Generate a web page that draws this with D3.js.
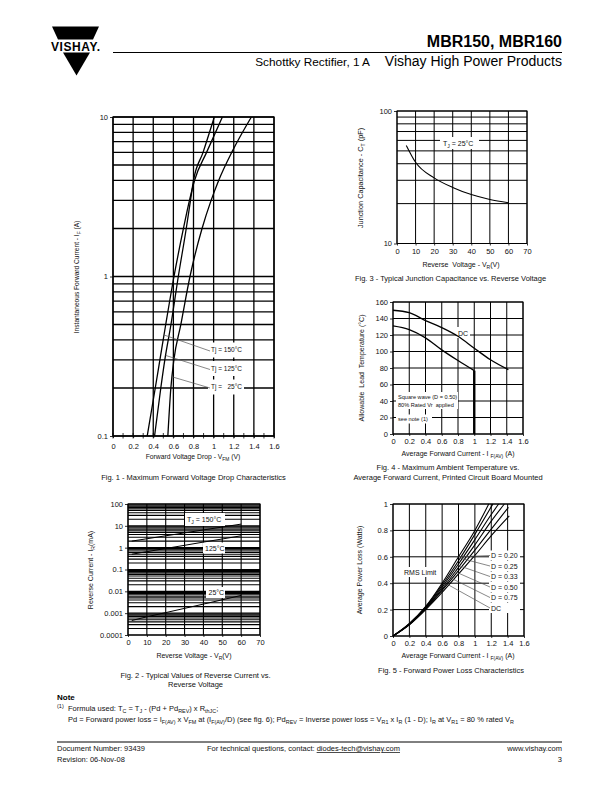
<!DOCTYPE html>
<html><head><meta charset="utf-8">
<script src="https://cdn.jsdelivr.net/npm/d3@7"></script>
<style>
body{margin:0;background:#fff}
svg{display:block}
text{font-family:"Liberation Sans",Arial,Helvetica,sans-serif}
</style>
</head><body>
<svg id="page" width="612" height="792"></svg>
<script>
// ---------------- DATA ----------------
// Fig. 1 - forward voltage drop (V) vs forward current (A)
const fig1Current = [0.1, 0.2, 0.3, 0.5, 1, 2, 3, 4, 6, 10];
const fig1V150 = [0.34, 0.42, 0.466, 0.524, 0.606, 0.70, 0.76, 0.81, 0.93, 1.087];
const fig1V125 = [0.413, 0.475, 0.515, 0.576, 0.649, 0.728, 0.77, 0.80, 0.895, 1.007];
const fig1V25 = [0.545, 0.575, 0.605, 0.674, 0.765, 0.885, 0.975, 1.05, 1.18, 1.375];
const fig1Labels = ["Tj = 150\u00B0C", "Tj = 125\u00B0C", "Tj =   25\u00B0C"];
const fig1XTicks = [0, 0.2, 0.4, 0.6, 0.8, 1, 1.2, 1.4, 1.6];
const fig1XMinor = [0.1, 0.3, 0.5, 0.7, 0.9, 1.1, 1.3, 1.5];
const fig1YTicks = [0.1, 1, 10];

// Fig. 2 - reverse current (mA) vs reverse voltage (V)
const fig2Voltage = [2, 10, 20, 30, 40, 50, 60];
const fig2I150 = [2.0, 2.56, 3.5, 4.75, 6.5, 8.8, 12];
const fig2I125 = [0.5, 0.655, 0.92, 1.28, 1.8, 2.5, 3.5];
const fig2I25 = [0.00046, 0.00068, 0.00106, 0.00166, 0.0026, 0.0041, 0.0065];
const fig2XTicks = [0, 10, 20, 30, 40, 50, 60, 70];
const fig2YTicks = [0.0001, 0.001, 0.01, 0.1, 1, 10, 100];
const fig2YTickLabels = ["0.0001", "0.001", "0.01", "0.1", "1", "10", "100"];

// Fig. 3 - junction capacitance (pF) vs reverse voltage (V)
const fig3Voltage = [5, 10, 20, 30, 40, 50, 60];
const fig3Cap = [55, 41, 31.3, 26.5, 23.4, 21.5, 20.3];
const fig3XTicks = [0, 10, 20, 30, 40, 50, 60, 70];
const fig3YTicks = [10, 100];

// Fig. 4 - allowable lead temperature vs average forward current
const fig4CurrentDC = [0, 0.2, 0.4, 0.6, 0.8, 1.0, 1.2, 1.42];
const fig4TempDC = [150, 147, 137.5, 129, 118.5, 104, 90, 78];
const fig4CurrentSq = [0, 0.2, 0.4, 0.6, 0.8, 1.0];
const fig4TempSq = [131, 126.5, 116.5, 102, 89, 76.8];
const fig4XTicks = [0, 0.2, 0.4, 0.6, 0.8, 1, 1.2, 1.4, 1.6];
const fig4YTicks = [0, 20, 40, 60, 80, 100, 120, 140, 160];

// Fig. 5 - average power loss vs average forward current
const fig5Names = ["D = 0.20", "D = 0.25", "D = 0.33", "D = 0.50", "D = 0.75", "DC"];
const fig5I_D020 = [0, 0.2, 0.4, 0.6, 0.8, 1.0, 1.17];
const fig5P_D020 = [0, 0.095, 0.225, 0.40, 0.60, 0.80, 1.0];
const fig5I_D025 = [0, 0.2, 0.4, 0.6, 0.8, 1.0, 1.22];
const fig5P_D025 = [0, 0.093, 0.22, 0.385, 0.57, 0.77, 1.0];
const fig5I_D033 = [0, 0.2, 0.4, 0.6, 0.8, 1.0, 1.2, 1.29];
const fig5P_D033 = [0, 0.09, 0.215, 0.37, 0.545, 0.73, 0.92, 1.0];
const fig5I_D050 = [0, 0.2, 0.4, 0.6, 0.8, 1.0, 1.2, 1.36];
const fig5P_D050 = [0, 0.088, 0.21, 0.355, 0.52, 0.69, 0.87, 1.0];
const fig5I_D075 = [0, 0.2, 0.4, 0.6, 0.8, 1.0, 1.2, 1.41];
const fig5P_D075 = [0, 0.086, 0.205, 0.345, 0.495, 0.65, 0.81, 0.975];
const fig5I_DC = [0, 0.2, 0.4, 0.6, 0.8, 1.0, 1.2, 1.42];
const fig5P_DC = [0, 0.085, 0.2, 0.33, 0.47, 0.61, 0.76, 0.91];
const fig5LeaderI = [0.80, 0.82, 0.79, 0.76, 0.72, 0.68];
const fig5XTicks = [0, 0.2, 0.4, 0.6, 0.8, 1, 1.2, 1.4, 1.6];
const fig5YTicks = [0, 0.2, 0.4, 0.6, 0.8, 1];

// ---------------- HELPERS ----------------
const FONT = '"Liberation Sans", Arial, Helvetica, sans-serif';
const svg = d3.select('#page');
svg.append('rect').attr('width', 612).attr('height', 792).attr('fill', '#fff');
const INK = '#111';

function addText(g, x, y, parts, o = {}) {
  const size = o.size || 7.5;
  const t = g.append('text').attr('x', x).attr('y', y)
    .attr('font-size', size).attr('text-anchor', o.anchor || 'start')
    .attr('font-weight', o.weight || 'normal').attr('fill', o.fill || INK)
    .attr('font-family', FONT);
  if (o.rotate) t.attr('transform', `rotate(-90,${x},${y})`);
  if (o.spacing) t.attr('xml:space', 'preserve').style('white-space', 'pre');
  if (typeof parts === 'string') parts = [parts];
  let pending = 0;
  parts.forEach(p => {
    if (typeof p === 'string') {
      const s = t.append('tspan').text(p);
      if (pending) { s.attr('dy', -pending); pending = 0; }
    } else {
      const d = p.sup ? -size * 0.38 : size * 0.3;
      const s = t.append('tspan').attr('font-size', size * 0.72).text(p.sub || p.sup);
      s.attr('dy', d - pending);
      pending = d;
    }
  });
  return t;
}

function grid(g, x, y, xs, ys, sw) {
  const [y0, y1] = y.range();
  const [x0, x1] = x.range();
  g.append('g').selectAll('line').data(xs).join('line')
    .attr('x1', d => x(d)).attr('x2', d => x(d)).attr('y1', y0).attr('y2', y1)
    .attr('stroke', '#000').attr('stroke-width', sw);
  g.append('g').selectAll('line').data(ys).join('line')
    .attr('x1', x0).attr('x2', x1).attr('y1', d => y(d)).attr('y2', d => y(d))
    .attr('stroke', '#000').attr('stroke-width', sw);
  g.append('rect').attr('x', x0).attr('y', y1).attr('width', x1 - x0).attr('height', y0 - y1)
    .attr('fill', 'none').attr('stroke', '#000').attr('stroke-width', sw);
}

function axes(g, x, y, xTicks, yTicks, o = {}) {
  const size = o.size || 7.5;
  const ax = g.append('g').attr('transform', `translate(0,${y.range()[0]})`)
    .call(d3.axisBottom(x).tickValues(xTicks).tickSize(o.xTick || 2).tickPadding(o.xPad || 3)
      .tickFormat(o.xFormat || d3.format('')));
  const ay = g.append('g').attr('transform', `translate(${x.range()[0]},0)`)
    .call(d3.axisLeft(y).tickValues(yTicks).tickSize(3).tickPadding(o.yPad || 2)
      .tickFormat(o.yFormat || d3.format('')));
  [ax, ay].forEach(a => {
    a.select('.domain').remove();
    a.attr('font-family', FONT).attr('font-size', size);
    a.selectAll('text').attr('fill', INK);
    a.selectAll('line').attr('stroke', '#000').attr('stroke-width', 0.8);
  });
}

function whiteBox(g, x, y, w, h) {
  g.append('rect').attr('x', x).attr('y', y).attr('width', w).attr('height', h).attr('fill', '#fff');
}

function curve(g, xs, ys, x, y, sw, c = d3.curveMonotoneX) {
  const pts = xs.map((v, i) => [v, ys[i]]);
  g.append('path').datum(pts)
    .attr('d', d3.line().x(d => x(d[0])).y(d => y(d[1])).curve(c))
    .attr('fill', 'none').attr('stroke', '#000').attr('stroke-width', sw);
}

// ---------------- HEADER ----------------
const hdr = svg.append('g');
hdr.append('polygon').attr('points', '52,26.5 99,26.5 93,39.5 58,39.5').attr('fill', '#000');
addText(hdr, 51, 50.5, 'VISHAY.', { size: 12, weight: 'bold', fill: '#000' }).attr('textLength', 49);
hdr.append('polygon').attr('points', '63,52.5 90,52.5 76.5,75.5').attr('fill', '#000');
addText(hdr, 562, 47, 'MBR150, MBR160', { size: 16, weight: 'bold', anchor: 'end', fill: '#000' });
hdr.append('line').attr('x1', 113).attr('x2', 562).attr('y1', 52.5).attr('y2', 52.5)
  .attr('stroke', '#000').attr('stroke-width', 1);
addText(hdr, 370, 65.5, 'Schottky Rectifier, 1 A', { size: 11.8, anchor: 'end', fill: '#000' });
addText(hdr, 562, 66, 'Vishay High Power Products', { size: 14, anchor: 'end', fill: '#000' });

// ---------------- FIG 1 ----------------
{
  const g = svg.append('g');
  const x = d3.scaleLinear().domain([0, 1.6]).range([113, 274]);
  const y = d3.scaleLog().domain([0.1, 10]).range([436, 117]);
  grid(g, x, y, fig1XTicks, y.ticks(), 1.3);
  g.append('g').selectAll('line').data(fig1XMinor.concat(fig1XTicks)).join('line')
    .attr('x1', d => x(d)).attr('x2', d => x(d)).attr('y1', 433).attr('y2', 438.5)
    .attr('stroke', '#000').attr('stroke-width', 0.8);
  axes(g, x, y, fig1XTicks, fig1YTicks, { xTick: 0, xPad: 6, yFormat: d3.format('') });
  [350, 368.5, 387].forEach(cy => whiteBox(g, 208, cy - 7.5, 36, 15));
  const curves = [fig1V150, fig1V125, fig1V25];
  curves.forEach(v => curve(g, v, fig1Current, x, y, 1.3));
  const leaderI = [0.43, 0.32, 0.235];
  [350, 368.5, 387].forEach((cy, i) => {
    addText(g, 211, cy + 2.3, fig1Labels[i], { size: 6.5, spacing: true });
    const vi = d3.scaleLog().domain(fig1Current).range(curves[i])(leaderI[i]);
    g.append('line').attr('x1', 210).attr('y1', cy + 1).attr('x2', x(vi)).attr('y2', y(leaderI[i]))
      .attr('stroke', '#555').attr('stroke-width', 0.7);
  });
  addText(g, 79, 277, ['Instantaneous Forward Current - I', { sub: 'F' }, ' (A)'], { size: 6.6, anchor: 'middle', rotate: true });
  addText(g, 193, 458.5, ['Forward Voltage Drop - V', { sub: 'FM' }, ' (V)'], { size: 6.8, anchor: 'middle' });
  addText(g, 193.5, 479.5, 'Fig. 1 - Maximum Forward Voltage Drop Characteristics', { size: 7.5, anchor: 'middle' });
}

// ---------------- FIG 3 ----------------
{
  const g = svg.append('g');
  const x = d3.scaleLinear().domain([0, 70]).range([397, 527]);
  const y = d3.scaleLog().domain([10, 100]).range([243.5, 111]);
  grid(g, x, y, fig3XTicks, y.ticks(), 1);
  axes(g, x, y, fig3XTicks, fig3YTicks, { xTick: 2, xPad: 3 });
  whiteBox(g, 440, 137, 39, 12);
  curve(g, fig3Voltage, fig3Cap, x, y, 1.1);
  addText(g, 443, 145.5, ['T', { sub: 'J' }, ' = 25\u00B0C'], { size: 7 });
  addText(g, 363, 178, ['Junction Capacitance - C', { sub: 'T' }, ' (pF)'], { size: 7.3, anchor: 'middle', rotate: true });
  addText(g, 461, 266.5, ['Reverse  Voltage - V', { sub: 'R' }, '(V)'], { size: 7, anchor: 'middle', spacing: true });
  addText(g, 450.5, 280.5, 'Fig. 3 - Typical Junction Capacitance vs. Reverse Voltage', { size: 7.5, anchor: 'middle' });
}

// ---------------- FIG 4 ----------------
{
  const g = svg.append('g');
  const x = d3.scaleLinear().domain([0, 1.6]).range([393, 523]);
  const y = d3.scaleLinear().domain([0, 160]).range([434, 302]);
  grid(g, x, y, fig4XTicks, fig4YTicks, 1);
  axes(g, x, y, fig4XTicks, fig4YTicks, { xTick: 2, xPad: 3 });
  whiteBox(g, 396, 392, 62, 17);
  whiteBox(g, 396, 414.5, 36, 9);
  whiteBox(g, 456, 327, 14, 11);
  curve(g, fig4CurrentDC, fig4TempDC, x, y, 1.3);
  curve(g, fig4CurrentSq, fig4TempSq, x, y, 1.3);
  g.append('line').attr('x1', x(1)).attr('x2', x(1)).attr('y1', y(fig4TempSq[fig4TempSq.length - 1])).attr('y2', y(0))
    .attr('stroke', '#000').attr('stroke-width', 2.4);
  addText(g, 458, 335.5, 'DC', { size: 7 });
  addText(g, 398, 399, 'Square wave (D = 0.50)', { size: 5.6 });
  addText(g, 398, 407, '80% Rated Vr  applied', { size: 5.6, spacing: true });
  addText(g, 398, 421, 'see note (1)', { size: 5.6 });
  addText(g, 364, 368, 'Allowable  Lead  Temperature (\u00B0C)', { size: 7, anchor: 'middle', rotate: true, spacing: true });
  addText(g, 458, 455.5, ['Average Forward Current - I ', { sub: 'F(AV)' }, ' (A)'], { size: 7, anchor: 'middle' });
  addText(g, 448, 469.5, 'Fig. 4 - Maximum Ambient Temperature vs.', { size: 7.5, anchor: 'middle' });
  addText(g, 448, 479.5, 'Average Forward Current, Printed Circuit Board Mounted', { size: 7.5, anchor: 'middle' });
}

// ---------------- FIG 2 ----------------
{
  const g = svg.append('g');
  const x = d3.scaleLinear().domain([0, 70]).range([128, 260]);
  const y = d3.scaleLog().domain([0.0001, 100]).range([635, 504]);
  grid(g, x, y, fig2XTicks, y.ticks(), 1.1);
  axes(g, x, y, fig2XTicks, fig2YTicks, { xTick: 2, xPad: 3, yFormat: (d, i) => fig2YTickLabels[i] });
  whiteBox(g, 185, 513, 40, 13);
  whiteBox(g, 203, 542.5, 22, 11);
  whiteBox(g, 206, 587, 19, 11);
  curve(g, fig2Voltage, fig2I150, x, y, 1);
  curve(g, fig2Voltage, fig2I125, x, y, 1);
  curve(g, fig2Voltage, fig2I25, x, y, 1);
  addText(g, 187, 521.5, ['T', { sub: 'J' }, ' = 150\u00B0C'], { size: 7 });
  addText(g, 205, 550.5, '125\u00B0C', { size: 7 });
  addText(g, 208.5, 595, '25\u00B0C', { size: 7 });
  addText(g, 93, 570, ['Reverse Current - I', { sub: 'R' }, '(mA)'], { size: 7, anchor: 'middle', rotate: true });
  addText(g, 194, 657.5, ['Reverse Voltage - V', { sub: 'R' }, '(V)'], { size: 7, anchor: 'middle' });
  addText(g, 195.5, 677.5, 'Fig. 2 - Typical Values of Reverse Current vs.', { size: 7.5, anchor: 'middle' });
  addText(g, 195.5, 687, 'Reverse Voltage', { size: 7.5, anchor: 'middle' });
}

// ---------------- FIG 5 ----------------
{
  const g = svg.append('g');
  const x = d3.scaleLinear().domain([0, 1.6]).range([393, 524]);
  const y = d3.scaleLinear().domain([0, 1]).range([636, 504]);
  grid(g, x, y, fig5XTicks, fig5YTicks, 1);
  axes(g, x, y, fig5XTicks, fig5YTicks, { xTick: 2, xPad: 3 });
  const labelY = [555.5, 566, 576.5, 587, 597.5, 608];
  labelY.forEach(cy => whiteBox(g, 489, cy - 5, 31, 10));
  whiteBox(g, 402, 567, 36, 10);
  const sets = [[fig5I_D020, fig5P_D020], [fig5I_D025, fig5P_D025], [fig5I_D033, fig5P_D033],
                [fig5I_D050, fig5P_D050], [fig5I_D075, fig5P_D075], [fig5I_DC, fig5P_DC]];
  sets.forEach(s => curve(g, s[0], s[1], x, y, 1.1));
  sets.forEach((s, i) => {
    const p = d3.scaleLinear().domain(s[0]).range(s[1])(fig5LeaderI[i]);
    g.append('line').attr('x1', x(fig5LeaderI[i])).attr('y1', y(p)).attr('x2', 490).attr('y2', labelY[i])
      .attr('stroke', '#555').attr('stroke-width', 0.7);
    addText(g, 491, labelY[i] + 2.5, fig5Names[i], { size: 7 });
  });
  addText(g, 404, 574.5, 'RMS Limit', { size: 7 });
  addText(g, 362, 570, 'Average Power Loss (Watts)', { size: 7, anchor: 'middle', rotate: true });
  addText(g, 458, 657.5, ['Average Forward Current - I ', { sub: 'F(AV)' }, ' (A)'], { size: 7, anchor: 'middle' });
  addText(g, 451, 672.5, 'Fig. 5 - Forward Power Loss Characteristics', { size: 7.5, anchor: 'middle' });
}

// ---------------- NOTES & FOOTER ----------------
{
  const g = svg.append('g');
  addText(g, 57, 700, 'Note', { size: 8, weight: 'bold', fill: '#000' });
  addText(g, 57, 708, '(1)', { size: 5.5 });
  addText(g, 68, 711, ['Formula used: T', { sub: 'C' }, ' = T', { sub: 'J' }, ' - (Pd + Pd', { sub: 'REV' }, ') x R', { sub: 'thJC' }, ';'], { size: 7.5 });
  addText(g, 68, 722, ['Pd = Forward power loss = I', { sub: 'F(AV)' }, ' x V', { sub: 'FM' }, ' at (I', { sub: 'F(AV)' },
    '/D) (see fig. 6); Pd', { sub: 'REV' }, ' = Inverse power loss = V', { sub: 'R1' }, ' x I', { sub: 'R' },
    ' (1 - D); I', { sub: 'R' }, ' at V', { sub: 'R1' }, ' = 80 % rated V', { sub: 'R' }], { size: 7.5 });
  g.append('line').attr('x1', 57).attr('x2', 562).attr('y1', 742).attr('y2', 742).attr('stroke', '#000').attr('stroke-width', 1);
  addText(g, 57, 751, 'Document Number: 93439', { size: 7.5 });
  addText(g, 57, 762, 'Revision: 06-Nov-08', { size: 7.5 });
  const t = addText(g, 207, 751, 'For technical questions, contact: ', { size: 7.5, spacing: true });
  t.append('tspan').attr('text-decoration', 'underline').text('diodes-tech@vishay.com');
  addText(g, 562, 751, 'www.vishay.com', { size: 7.5, anchor: 'end' });
  addText(g, 562, 762, '3', { size: 7.5, anchor: 'end' });
}
</script>
</body></html>
